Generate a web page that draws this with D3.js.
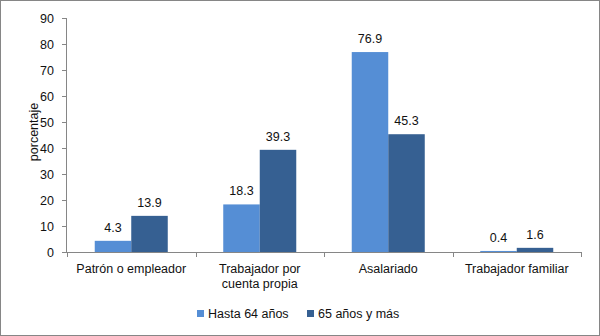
<!DOCTYPE html>
<html><head><meta charset="utf-8">
<script src="https://cdn.jsdelivr.net/npm/d3@7"></script>
<style>body{margin:0;background:#fff}svg{display:block;font-family:"Liberation Sans",Arial,sans-serif}</style>
</head><body><svg id="c" width="600" height="336"></svg>
<script>
const categories = [["Patrón o empleador"], ["Trabajador por","cuenta propia"], ["Asalariado"], ["Trabajador familiar"]];
const seriesNames = ["Hasta 64 años", "65 años y más"];
const hasta64 = [4.3, 18.3, 76.9, 0.4];
const mas65 = [13.9, 39.3, 45.3, 1.6];
const yTicks = [0,10,20,30,40,50,60,70,80,90];
const colors = ["#558ed5", "#366092"];

const svg = d3.select("#c");
svg.append("rect").attr("x",0.5).attr("y",0.5).attr("width",599).attr("height",335).attr("fill","#fff").attr("stroke","#868686");

const x0 = 67, x1 = 581, yTop = 18, yBot = 252;
const FS = 12.5;
const x = d3.scaleBand().domain(d3.range(categories.length)).range([x0,x1]).paddingInner(0).paddingOuter(0);
const y = d3.scaleLinear().domain([0,90]).range([yBot,yTop]);
const inner = d3.scaleBand().domain([0,1]).range([0, x.bandwidth()]).paddingInner(0).paddingOuter(0.76);

// y axis
const ya = svg.append("g").attr("transform",`translate(${x0},0)`)
  .call(d3.axisLeft(y).tickValues(yTicks).tickSize(5).tickPadding(8).tickFormat(d3.format("d")));
ya.select(".domain").attr("stroke","#868686").attr("d",`M-0.5,${yTop}V${yBot}`);
ya.selectAll(".tick line").attr("stroke","#868686");
ya.selectAll("text").attr("font-size",FS).attr("fill","#111").attr("font-family","Liberation Sans, Arial");

svg.append("text").attr("transform",`translate(38,132) rotate(-90)`).attr("text-anchor","middle")
  .attr("font-size",FS).attr("fill","#111").text("porcentaje");

// bars
const data = [hasta64, mas65];
data.forEach((vals, s) => {
  const g = svg.append("g");
  g.selectAll("rect").data(vals).join("rect")
    .attr("x",(d,i)=>x(i)+inner(s)).attr("width",inner.bandwidth())
    .attr("y",d=>y(d)).attr("height",d=>yBot-y(d)).attr("fill",colors[s]);
  g.selectAll("text").data(vals).join("text")
    .attr("x",(d,i)=>x(i)+inner(s)+inner.bandwidth()/2).attr("y",d=>y(d)-9)
    .attr("text-anchor","middle").attr("font-size",FS).attr("fill","#111")
    .text(d=>d.toFixed(1));
});

// x axis
const xa = svg.append("g").attr("transform",`translate(0,${yBot})`);
xa.append("line").attr("x1",x0).attr("x2",x1).attr("y1",0.5).attr("y2",0.5).attr("stroke","#868686");
d3.range(categories.length+1).forEach(i=>{
  const xx = Math.round(x0 + i*x.bandwidth())+0.5;
  xa.append("line").attr("x1",xx).attr("x2",xx).attr("y1",0).attr("y2",5).attr("stroke","#868686");
});
categories.forEach((lines,i)=>{
  const t = xa.append("text").attr("text-anchor","middle").attr("font-size",FS).attr("fill","#111");
  lines.forEach((l,k)=>t.append("tspan").attr("x",x(i)+x.bandwidth()/2).attr("y",21+k*15).text(l));
});

// legend
const leg = [[197,208],[307,318]];
seriesNames.forEach((n,s)=>{
  svg.append("rect").attr("x",leg[s][0]).attr("y",310).attr("width",7).attr("height",7).attr("fill",colors[s]);
  svg.append("text").attr("x",leg[s][1]).attr("y",318).attr("font-size",FS).attr("fill","#111").text(n);
});
</script></body></html>
